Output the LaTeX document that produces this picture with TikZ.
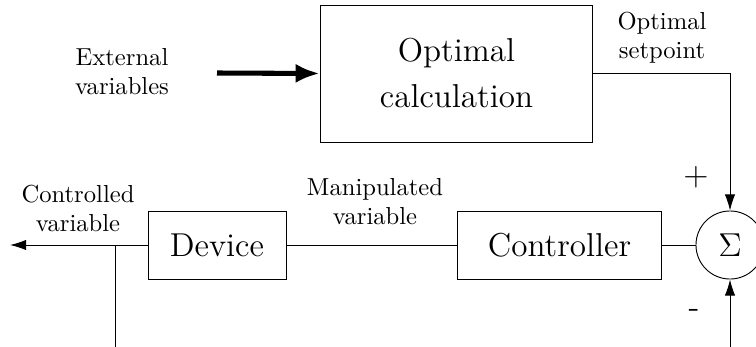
\documentclass[tikz,border=0pt]{standalone}
\usepackage{xcolor}
\usepackage{tikz}
\usetikzlibrary{arrows.meta, calc, positioning}
\def\unit{0.435pt}
\def\rowY{245}

\begin{document}
\begin{tikzpicture}[x=\unit, y=-\unit,
        block/.style={draw, font=\Large, align=center, inner sep=0pt},
        label/.style={align=center, inner sep=0pt, font=\fontsize{10.7}{12.6}\selectfont},
        sumcircle/.style={draw, circle, font=\Large, minimum size=29.6pt, inner sep=0pt},
        flow/.style={-{Latex[length=7pt,width=4.5pt]}},
        bigflow/.style={-{Latex[length=10.4pt,width=8.3pt]}, line width=2.2pt}]
    \useasboundingbox (0,0) rectangle (756,347);
    \clip (0,0) rectangle (756,347);

    % Draw blocks
    \node[block, minimum width=118.7pt, minimum height=59.6pt] (opt) at (456.5,73.5) {Optimal\\[2pt]calculation};
    \node[block, minimum width=60pt, minimum height=29.6pt] (dev) at (217,\rowY) {Device};
    \node[block, minimum width=89.1pt, minimum height=29.6pt] (ctrl) at (559.5,\rowY) {Controller};
    \node[sumcircle] (sum) at (730,\rowY) {$\Sigma$};

    % Draw labels
    \node[label] (ext) at (122,72) {External\\variables};
    \node[label] (setpt) at (662,38) {Optimal\\setpoint};
    \node[label] (contr) at (78,208) {Controlled\\variable};
    \node[label] (manip) at (375,202) {Manipulated\\variable};
    \node (plus) at (696,177) {\Large $+$};
    \node (minus) at (694,313) {\Large -};

    % Free ends
    \coordinate (extStart) at (217,73);
    \coordinate (out) at (10,\rowY);
    \coordinate (tap) at (115,\rowY);
    \coordinate (tapEnd) at (115,360);
    \coordinate (fbStart) at (730,360);

    % Draw connectors
    \draw[bigflow] (extStart) -- (opt.west);
    \draw[flow] (opt.east) -| (sum.north);
    \draw (sum.west) -- (ctrl.east);
    \draw (ctrl.west) -- (dev.east);
    \draw[flow] (dev.west) -- (out);
    \draw (tap) -- (tapEnd);
    \draw[flow] (fbStart) -- (sum.south);
\end{tikzpicture}
\end{document}
